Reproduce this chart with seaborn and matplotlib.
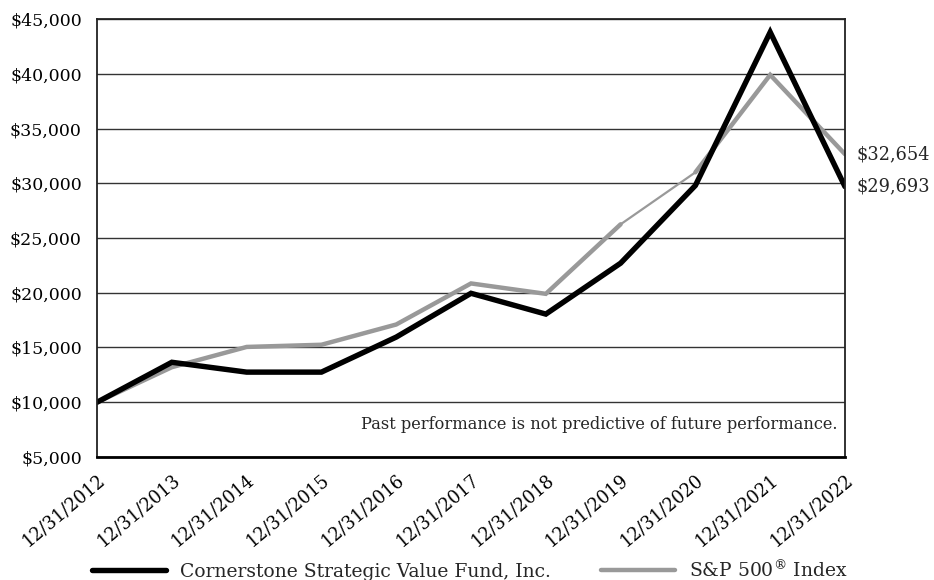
import numpy as np
import pandas as pd
import seaborn as sns
import matplotlib.pyplot as plt
from matplotlib.ticker import FuncFormatter, MultipleLocator
from matplotlib.transforms import ScaledTranslation

dates = ["12/31/2012", "12/31/2013", "12/31/2014", "12/31/2015", "12/31/2016",
         "12/31/2017", "12/31/2018", "12/31/2019", "12/31/2020", "12/31/2021",
         "12/31/2022"]
fund = [10000, 13650, 12750, 12750, 15950, 19950, 18050, 22700, 29800, 43800, 29693]
sp500 = [10000, 13200, 15050, 15250, 17100, 20850, 19900, 26250, 31000, 39900, 32654]

fund_name = "Cornerstone Strategic Value Fund, Inc."
sp_name = "S&P 500$^{®}$ Index"

sns.set_style("white")
plt.rcParams['font.family'] = ['DejaVu Serif']
plt.rcParams['mathtext.fontset'] = 'dejavuserif'

df = pd.DataFrame({'pos': np.arange(len(dates)), 'date': dates,
                   'fund': fund, 'sp500': sp500})

fig = plt.figure(figsize=(9.34, 5.8), dpi=100)
ax = fig.add_axes([0.1039, 0.2121, 0.8008, 0.7551])

gray = "#999999"
# the index line is drawn thinner between 2019 and 2020 in the original
sns.lineplot(data=df.iloc[:8], x='pos', y='sp500', color=gray, lw=3.2, ax=ax,
             label=sp_name, solid_joinstyle='miter')
sns.lineplot(data=df.iloc[7:9], x='pos', y='sp500', color=gray, lw=1.6, ax=ax)
sns.lineplot(data=df.iloc[8:], x='pos', y='sp500', color=gray, lw=3.2, ax=ax,
             solid_joinstyle='miter')
sns.lineplot(data=df, x='pos', y='fund', color='black', lw=3.9, ax=ax,
             label=fund_name, solid_joinstyle='miter')

ax.set_xlim(0, len(dates) - 1)
ax.set_ylim(5000, 45000)
ax.yaxis.set_major_locator(MultipleLocator(5000))
ax.yaxis.set_major_formatter(FuncFormatter(lambda v, p: "${:,.0f}".format(v)))
ax.set_xticks(df['pos'])
ax.set_xticklabels(dates, rotation=40, ha='right', va='top', rotation_mode='anchor')
off = ScaledTranslation(12 / 100, 0, fig.dpi_scale_trans)
for lab in ax.get_xticklabels():
    lab.set_transform(lab.get_transform() + off)
ax.tick_params(axis='x', direction='in', length=8, width=1.2, color='black',
               pad=10, labelsize=12.8, colors='black')
ax.tick_params(axis='y', length=0, pad=11, labelsize=12.5, colors='black')
ax.set_xlabel("")
ax.set_ylabel("")

ax.grid(axis='y', color='#333333', lw=1)
ax.set_axisbelow(True)
for side in ['left', 'right', 'top']:
    ax.spines[side].set_color('#222222')
    ax.spines[side].set_linewidth(1.3)
ax.spines['bottom'].set_color('black')
ax.spines['bottom'].set_linewidth(2)

# end values
ax.annotate("${:,.0f}".format(sp500[-1]), xy=(df['pos'].iloc[-1], sp500[-1]),
            xytext=(8, 0), textcoords='offset points', va='center', ha='left',
            fontsize=12.8, annotation_clip=False)
ax.annotate("${:,.0f}".format(fund[-1]), xy=(df['pos'].iloc[-1], fund[-1]),
            xytext=(8, 0), textcoords='offset points', va='center', ha='left',
            fontsize=12.8, annotation_clip=False)

ax.text(0.99, 0.075, "Past performance is not predictive of future performance.",
        transform=ax.transAxes, ha='right', va='center', fontsize=11.7)

h, l = ax.get_legend_handles_labels()
order = [l.index(fund_name), l.index(sp_name)]
ax.legend([h[i] for i in order], [l[i] for i in order], loc='center',
          bbox_to_anchor=(0.503, 0.017), bbox_transform=fig.transFigure,
          ncol=2, frameon=False, fontsize=13.5, handlelength=3.95,
          handletextpad=0.75, columnspacing=2.7, borderpad=0)

fig.savefig("out.png", dpi=100)
